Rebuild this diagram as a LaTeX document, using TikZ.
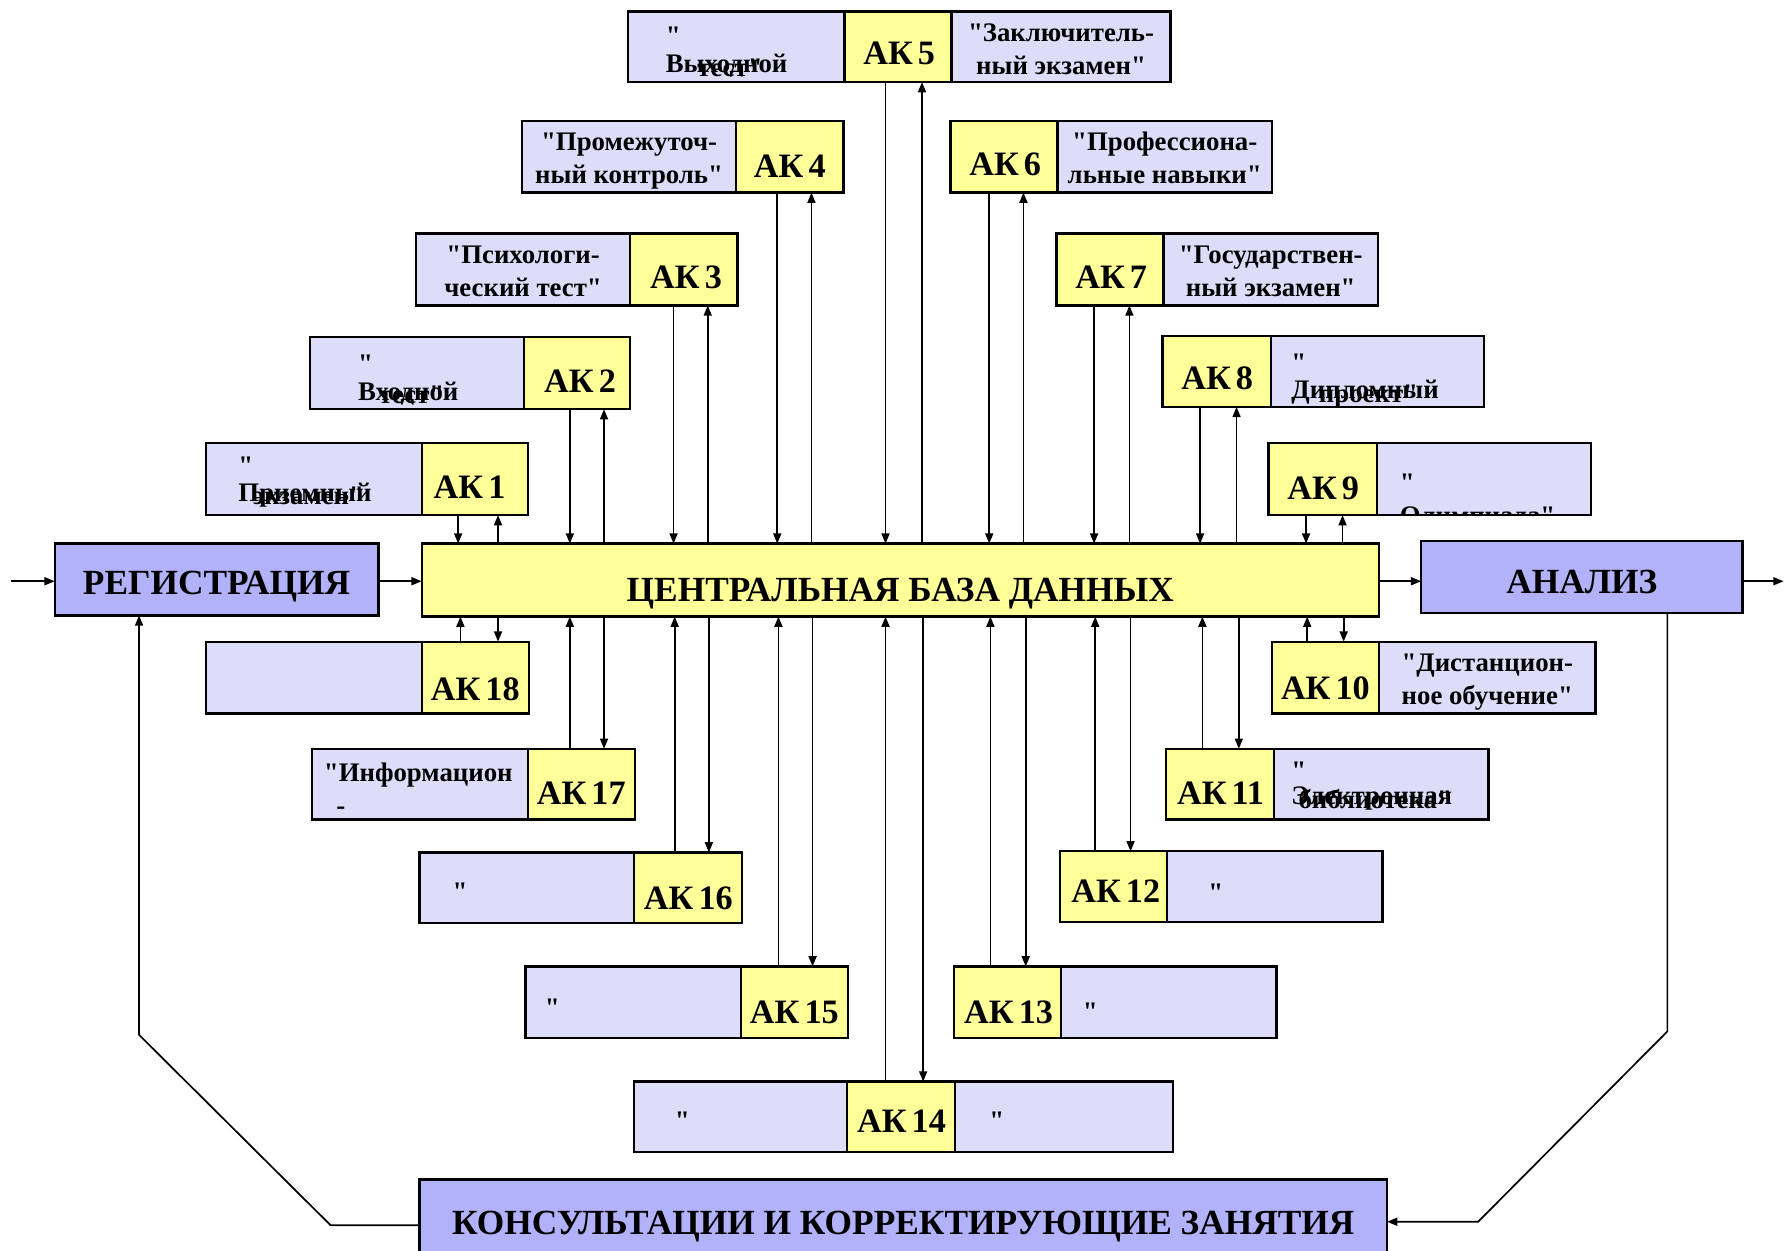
\documentclass[tikz,border=0pt]{standalone}
\usepackage{fontspec}
\setmainfont{Liberation Serif}[Ligatures=TeXOff]
\usetikzlibrary{arrows.meta}
\definecolor{boxlav}{RGB}{221,221,250}
\definecolor{boxyel}{RGB}{255,255,153}
\definecolor{mainlav}{RGB}{178,178,250}

% panel: style, name, left x, top y, width, height
\newcommand\panel[6]{\node[#1,minimum width=#5pt,minimum height=#6pt] (#2) at (#3,#4) {};}
% two centred lines in a panel
\newcommand\twolines[3]{%
  \node[small,anchor=base] (#1a) at ([shift={(0,26)}]#1.north) {#2};
  \node[small,anchor=base] (#1b) at ([shift={(0,55)}]#1.north) {#3};}
% quote mark, then two overprinted lines, cut to the panel
\newcommand\overprint[6]{%
  \begin{scope}
    \clip ([shift={(1,1)}]#1.north west) rectangle ([shift={(-1,-1)}]#1.south east);
    \node[small,anchor=base west] (#1q) at ([shift={(#2,#3)}]#1.north west) {"};
    \node[small,anchor=base west] (#1a) at ([shift={(#2,#4)}]#1.north west) {#5};
    \node[small,anchor=base] (#1b) at ([shift={(3,3)}]#1a.base) {#6};
  \end{scope}}

\begin{document}
\begin{tikzpicture}[x=1pt,y=-1pt,
  frame/.style={draw,line width=2pt,inner sep=0pt,outer sep=0pt,anchor=north west},
  lav/.style={frame,fill=boxlav},
  yel/.style={frame,fill=boxyel},
  big/.style={frame,fill=mainlav},
  wire/.style={line width=1.5pt},
  conn/.style={wire,-{Triangle[length=9pt,width=7pt]}},
  small/.style={inner sep=0pt,font=\fontsize{23.5}{27}\selectfont\bfseries},
  aklab/.style={inner sep=0pt,anchor=base,font=\fontsize{30}{32}\selectfont\bfseries},
  bigtxt/.style={inner sep=0pt,anchor=base,font=\fontsize{31}{33}\selectfont\bfseries},
]
\useasboundingbox (0,0) rectangle (1568,1097);
\fill[white] (0,0) rectangle (1568,1097);

% ---- main chain ----
\panel{big}{reg}{48}{477}{284}{63}
\panel{yel}{db}{370}{477}{840}{64}
\panel{big}{ana}{1247}{475}{282}{63}
\panel{big}{kons}{368}{1035}{849}{66}
\node[bigtxt] (regt) at ([shift={(0,45)}]reg.north) {РЕГИСТРАЦИЯ};
\node[bigtxt] (dbt) at ([shift={(0,51)}]db.north) {ЦЕНТРАЛЬНАЯ БАЗА ДАННЫХ};
\node[bigtxt] (anat) at ([shift={(0,46)}]ana.north) {АНАЛИЗ};
\node[bigtxt] (konst) at ([shift={(0,48)}]kons.north) {КОНСУЛЬТАЦИИ И КОРРЕКТИРУЮЩИЕ ЗАНЯТИЯ};

% ---- control points, upper half ----
\panel{lav}{l1}{181}{389}{189}{63}  \panel{yel}{y1}{370}{389}{93}{63}
\panel{lav}{l2}{272}{296}{188}{63}  \panel{yel}{y2}{460}{296}{93}{63}
\panel{lav}{l3}{365}{205}{188}{63}  \panel{yel}{y3}{553}{205}{94}{63}
\panel{lav}{l4}{458}{106}{188}{63}  \panel{yel}{y4}{646}{106}{94}{63}
\panel{lav}{l5}{551}{10}{190}{62}   \panel{lav}{r5}{835}{10}{192}{62}
\panel{yel}{y5}{741}{10}{94}{62}
\panel{lav}{l6}{928}{106}{188}{63}  \panel{yel}{y6}{834}{106}{94}{63}
\panel{lav}{l7}{1021}{205}{188}{63} \panel{yel}{y7}{927}{205}{94}{63}
\panel{lav}{l8}{1115}{295}{187}{62} \panel{yel}{y8}{1020}{295}{95}{62}
\panel{lav}{l9}{1208}{389}{188}{63} \panel{yel}{y9}{1113}{389}{95}{63}

% ---- control points, lower half ----
\panel{lav}{l10}{1210}{563}{190}{63} \panel{yel}{y10}{1116}{563}{94}{63}
\panel{lav}{l11}{1118}{657}{188}{62} \panel{yel}{y11}{1023}{657}{95}{62}
\panel{lav}{l12}{1024}{747}{189}{62} \panel{yel}{y12}{930}{747}{94}{62}
\panel{lav}{l13}{931}{848}{189}{63}  \panel{yel}{y13}{837}{848}{94}{63}
\panel{lav}{l14}{556}{949}{187}{62}  \panel{lav}{r14}{838}{949}{191}{62}
\panel{yel}{y14}{743}{949}{95}{62}
\panel{lav}{l15}{461}{848}{189}{63}  \panel{yel}{y15}{650}{848}{94}{63}
\panel{lav}{l16}{368}{748}{188}{62}  \panel{yel}{y16}{556}{748}{95}{62}
\panel{lav}{l17}{274}{657}{189}{62}  \panel{yel}{y17}{463}{657}{94}{62}
\panel{lav}{l18}{181}{563}{189}{63}  \panel{yel}{y18}{370}{563}{94}{63}

% ---- control point codes ----
\foreach \n/\dx/\dy in {1/42/48,2/49/48,3/49/48,4/47/50,5/48/47,6/48/48,7/48/48,8/48/47,9/48/49,
  10/47/51,11/48/49,12/49/45,13/48/50,14/48/45,15/47/50,16/48/50,17/47/49,18/47/52}
  \node[aklab] (k\n) at ([shift={(\dx,\dy)}]y\n.north west) {АК\hspace{0.15em}\n};

% ---- captions ----
\overprint{l1}{28}{27}{51}{Приемный}{экзамен"}
\overprint{l2}{42}{31}{55}{Входной}{тест"}
\overprint{l5}{33}{29}{54}{Выходной}{тест"}
\overprint{l8}{18}{31}{55}{Дипломный}{проект"}
\overprint{l11}{15}{27}{49}{Электронная}{библиотека"}
\begin{scope}
  \clip ([shift={(1,1)}]l9.north west) rectangle ([shift={(-1,-1)}]l9.south east);
  \node[small,anchor=base west] (l9q) at ([shift={(20,42)}]l9.north west) {"};
  \node[small,anchor=base west] (l9a) at ([shift={(20,71)}]l9.north west) {Олимпиада"};
\end{scope}
\twolines{l3}{"Психологи-}{ческий тест"}
\twolines{l4}{"Промежуточ-}{ный контроль"}
\twolines{r5}{"Заключитель-}{ный экзамен"}
\twolines{l6}{"Профессиона-}{льные навыки"}
\twolines{l7}{"Государствен-}{ный экзамен"}
\twolines{l10}{"Дистанцион-}{ное обучение"}
\node[small,anchor=base west] (l17a) at ([shift={(10,29)}]l17.north west) {"Информацион};
\node[small,anchor=base west] (l17b) at ([shift={(21,58)}]l17.north west) {-};
\node[small,anchor=base west] (l12q) at ([shift={(36,44)}]l12.north west) {"};
\node[small,anchor=base west] (l13q) at ([shift={(19,47)}]l13.north west) {"};
\node[small,anchor=base west] (l14q) at ([shift={(36,42)}]l14.north west) {"};
\node[small,anchor=base west] (r14q) at ([shift={(30,42)}]r14.north west) {"};
\node[small,anchor=base west] (l15q) at ([shift={(17,44)}]l15.north west) {"};
\node[small,anchor=base west] (l16q) at ([shift={(29,42)}]l16.north west) {"};

% ---- exchange with the central database ----
\foreach \n/\a/\b in {1/32/67,2/40/70,3/38/68,4/36/66,5/36/68,6/34/64,7/33/64,8/33/65,9/33/65}{
  \coordinate (dn\n) at ([xshift=\a pt]y\n.south west);
  \coordinate (up\n) at ([xshift=\b pt]y\n.south west);
  \draw[conn] (dn\n) -- (dn\n |- db.north);
  \draw[conn] (up\n |- db.north) -- (up\n);
}
\foreach \n/\a/\b in {10/31/63,11/32/64,12/31/62,13/32/63,14/34/67,15/33/63,16/36/66,17/37/67,18/34/67}{
  \coordinate (up\n) at ([xshift=\a pt]y\n.north west);
  \coordinate (dn\n) at ([xshift=\b pt]y\n.north west);
  \draw[conn] (up\n) -- (up\n |- db.south);
  \draw[conn] (dn\n |- db.south) -- (dn\n);
}

% ---- main flow ----
\coordinate (in) at (10,510);
\coordinate (out) at (1565,510);
\draw[conn] (in) -- (in -| reg.west);
\draw[conn] (reg.east |- in) -- (in -| db.west);
\draw[conn] (db.east |- in) -- (in -| ana.west);
\draw[conn] (ana.east |- in) -- (out);

% ---- feedback loop ----
\coordinate (fa) at ([xshift=-66pt]ana.south east);
\coordinate (rb1) at (1463,905);
\coordinate (rb2) at (1297,1072);
\coordinate (lb2) at (290,1075);
\coordinate (lb1) at (122,908);
\draw[conn] (fa) -- (rb1) -- (rb2) -- (rb2 -| kons.east);
\draw[conn] (lb2 -| kons.west) -- (lb2) -- (lb1) -- (lb1 |- reg.south);
\end{tikzpicture}
\end{document}
